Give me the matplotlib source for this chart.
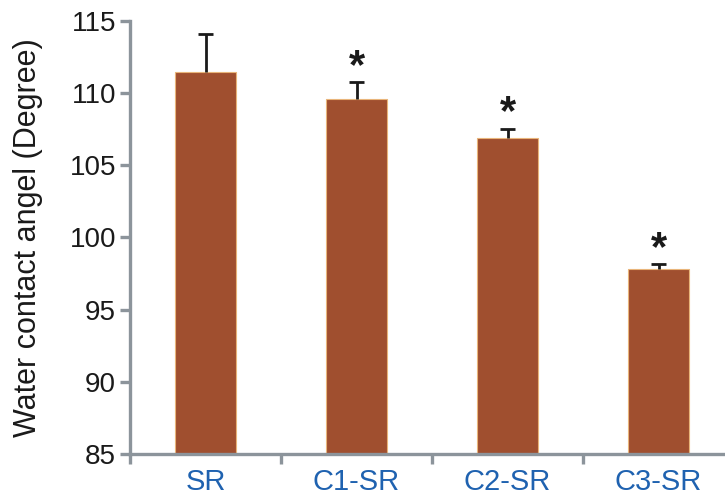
import matplotlib
matplotlib.use("Agg")
import matplotlib.pyplot as plt
import numpy as np

plt.rcParams['font.family'] = ['Liberation Sans', 'DejaVu Sans']

categories = ["SR", "C1-SR", "C2-SR", "C3-SR"]
values = [111.45, 109.6, 106.9, 97.8]
errors = [2.65, 1.15, 0.62, 0.35]
significant = [False, True, True, True]
yticks = [85, 90, 95, 100, 105, 110, 115]

fig = plt.figure(figsize=(7.25, 4.97), dpi=100)
ax = fig.add_axes([130/725, 1-454/497, 1-130/725, (454-20.7)/497])

x = np.arange(len(categories))
bar_color = "#a04f2f"
edge_color = "#e9b57a"
ax.bar(x, values, width=0.405, color=bar_color, edgecolor=edge_color, linewidth=0.8, zorder=2)

vals = np.array(values)
errs = np.array(errors)
ax.vlines(x, vals, vals + errs, colors="#1a1a1a", linewidth=2.0, zorder=3)
ax.hlines(vals + errs, x - 0.048, x + 0.048, colors="#1a1a1a", linewidth=2.0, zorder=3)

for xi, v, e, s in zip(x, values, errors, significant):
    if s:
        ax.annotate("*", xy=(xi, v + e), xytext=(0, 11), textcoords="offset points",
                    ha="center", va="center", fontsize=30, fontweight="bold", color="#1a1a1a")

ax.set_ylim(85, 115)
ax.set_xlim(-0.5, 3.44)
ax.set_yticks(yticks)
ax.set_yticklabels([str(t) for t in yticks])
ax.set_xticks([-0.5, 0.5, 1.5, 2.5])
ax.set_xticklabels([])
ax.set_xticks(x, minor=True)
ax.set_xticklabels(categories, minor=True)

axis_color = "#8c949b"
for side in ["top", "right"]:
    ax.spines[side].set_visible(False)
for side in ["left", "bottom"]:
    ax.spines[side].set_color(axis_color)
    ax.spines[side].set_linewidth(2.4)

ax.tick_params(axis='y', which='major', direction='out', length=7, width=2.4,
               color=axis_color, labelsize=20, labelcolor="#1a1a1a", pad=3)
ax.tick_params(axis='x', which='major', direction='out', length=7, width=2.4,
               color=axis_color)
ax.tick_params(axis='x', which='minor', length=0, labelsize=21,
               labelcolor="#1f62b0", pad=10)

ax.set_ylabel("Water contact angel (Degree)", fontsize=22, color="#1a1a1a", labelpad=19)

fig.savefig("out.png", dpi=100)
